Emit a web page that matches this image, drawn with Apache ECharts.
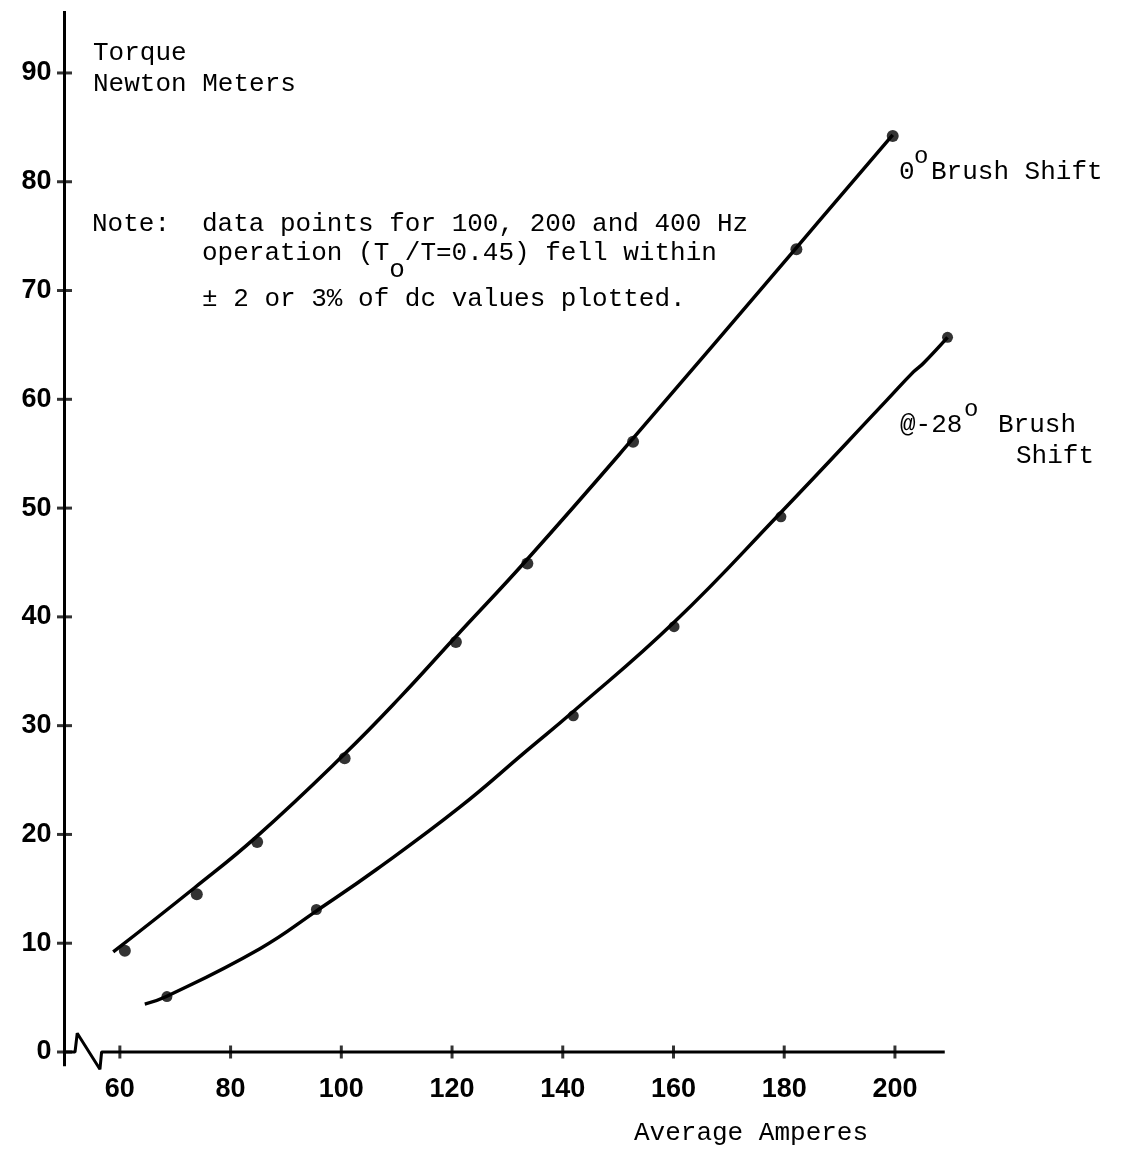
<!DOCTYPE html>
<html>
<head>
<meta charset="utf-8">
<script src="https://cdn.jsdelivr.net/npm/echarts@6/dist/echarts.min.js"></script>
<style>
html,body{margin:0;padding:0;background:#fff;}
#chart{width:1128px;height:1149px;}
</style>
</head>
<body>
<div id="chart"></div>
<script>
// ---- data ----
const xTickValues = [60, 80, 100, 120, 140, 160, 180, 200];
const yTickValues = [0, 10, 20, 30, 40, 50, 60, 70, 80, 90];

// measured points, 0 deg brush shift
const pts0X = [60.9, 73.9, 84.8, 100.6, 120.7, 133.6, 152.7, 182.2, 199.6];
const pts0Y = [9.3, 14.5, 19.3, 27.0, 37.7, 44.9, 56.1, 73.8, 84.2];
// hand-drawn curve, 0 deg brush shift
const curve0X = [58.8, 73.5, 84.7, 100.4, 110.6, 120.7, 133.6, 152.7, 182.3, 199.6];
const curve0Y = [9.2, 15.1, 19.8, 27.3, 32.6, 38.2, 45.3, 56.4, 74.0, 84.3];

// measured points, -28 deg brush shift
const pts28X = [68.5, 95.5, 141.9, 160.1, 179.4, 209.5];
const pts28Y = [5.1, 13.1, 30.9, 39.1, 49.2, 65.7];
// hand-drawn curve, -28 deg brush shift
const curve28X = [64.5, 68.4, 85.3, 95.6, 106.4, 121.4, 133.5, 141.9, 160.1, 179.4, 198.5, 203.3, 205.1, 209.5];
const curve28Y = [4.4, 5.1, 9.5, 13.0, 16.8, 22.5, 27.7, 31.3, 39.5, 49.6, 59.9, 62.5, 63.3, 65.7];

// axis lines (with the axis-break zigzag)
const xAxisLineX = [50, 51.9, 52.3, 56.4, 56.7, 209.0];
const xAxisLineY = [0, 0, 1.72, -1.59, 0, 0];
const yAxisLineX = [50, 50];
const yAxisLineY = [-1.3, 95.7];

const zip = (a, b) => a.map((v, i) => [v, b[i]]);

const monoFont = '"Liberation Mono", "DejaVu Sans Mono", monospace';
const FS = 26;
const CW = FS * 0.6;

function txt(x, y, s, size) {
  return {
    type: 'text', x: x, y: y, silent: true,
    style: { text: s, fill: '#000', fontFamily: monoFont, fontSize: size || FS, verticalAlign: 'middle', align: 'left' }
  };
}

const chart = echarts.init(document.getElementById('chart'), null, { renderer: 'canvas' });
const axisStyle = { color: '#000', width: 3 };
const curveStyle = { color: '#000', width: 3.5 };

chart.setOption({
  animation: false,
  backgroundColor: '#fff',
  grid: { left: 64.5, right: 177.7, top: 7.7, bottom: 97, containLabel: false },
  xAxis: {
    type: 'value', min: 50, max: 210, interval: 10,
    axisLine: { show: false }, axisTick: { show: false }, splitLine: { show: false },
    axisLabel: {
      margin: 24, color: '#000', fontFamily: '"Liberation Sans", Arial, sans-serif',
      fontSize: 27, fontWeight: 'bold',
      formatter: v => (v % 20 === 0 && v >= 60 && v <= 200) ? String(v) : ''
    }
  },
  yAxis: {
    type: 'value', min: 0, max: 96, interval: 10,
    axisLine: { show: false }, axisTick: { show: false }, splitLine: { show: false },
    axisLabel: {
      margin: 13, color: '#000', fontFamily: '"Liberation Sans", Arial, sans-serif',
      fontSize: 27, fontWeight: 'bold',
      formatter: v => (v % 10 === 0 && v <= 90) ? String(v) : ''
    }
  },
  series: [
    { type: 'line', data: zip(xAxisLineX, xAxisLineY), showSymbol: false, clip: false, silent: true,
      lineStyle: axisStyle },
    { type: 'line', data: zip(yAxisLineX, yAxisLineY), showSymbol: false, clip: false, silent: true,
      lineStyle: axisStyle },
    { type: 'scatter', data: xTickValues.map(v => [v, 0]), symbol: 'rect', symbolSize: [3, 13],
      itemStyle: { color: '#000' }, silent: true, clip: false },
    { type: 'scatter', data: yTickValues.map(v => [50, v]), symbol: 'rect', symbolSize: [15, 3],
      itemStyle: { color: '#000' }, silent: true, clip: false },
    { type: 'line', data: zip(curve0X, curve0Y), smooth: 0.45, showSymbol: false, silent: true,
      lineStyle: curveStyle, clip: false },
    { type: 'line', data: zip(curve28X, curve28Y), smooth: 0.45, showSymbol: false, silent: true,
      lineStyle: curveStyle, clip: false },
    { type: 'scatter', data: zip(pts0X, pts0Y), symbol: 'circle', symbolSize: 12,
      itemStyle: { color: '#000' }, silent: true, clip: false },
    { type: 'scatter', data: zip(pts28X, pts28Y), symbol: 'circle', symbolSize: 11,
      itemStyle: { color: '#000' }, silent: true, clip: false }
  ],
  graphic: [
    txt(93, 53, 'Torque'),
    txt(93, 84, 'Newton Meters'),
    txt(92, 224, 'Note:'),
    txt(202, 224, 'data points for 100, 200 and 400 Hz'),
    txt(202, 253, 'operation (T'),
    txt(202 + 12 * CW, 270, 'o'),
    txt(202 + 13 * CW, 253, '/T=0.45) fell within'),
    txt(202, 299, '\u00b1 2 or 3% of dc values plotted.'),
    txt(899, 172, '0'),
    txt(914, 157, 'o', 24),
    txt(931, 172, 'Brush Shift'),
    txt(900, 425, '@-28'),
    txt(964, 410, 'o', 24),
    txt(998, 425, 'Brush'),
    txt(1016, 456, 'Shift'),
    txt(634, 1133, 'Average Amperes')
  ]
});
</script>
</body>
</html>
